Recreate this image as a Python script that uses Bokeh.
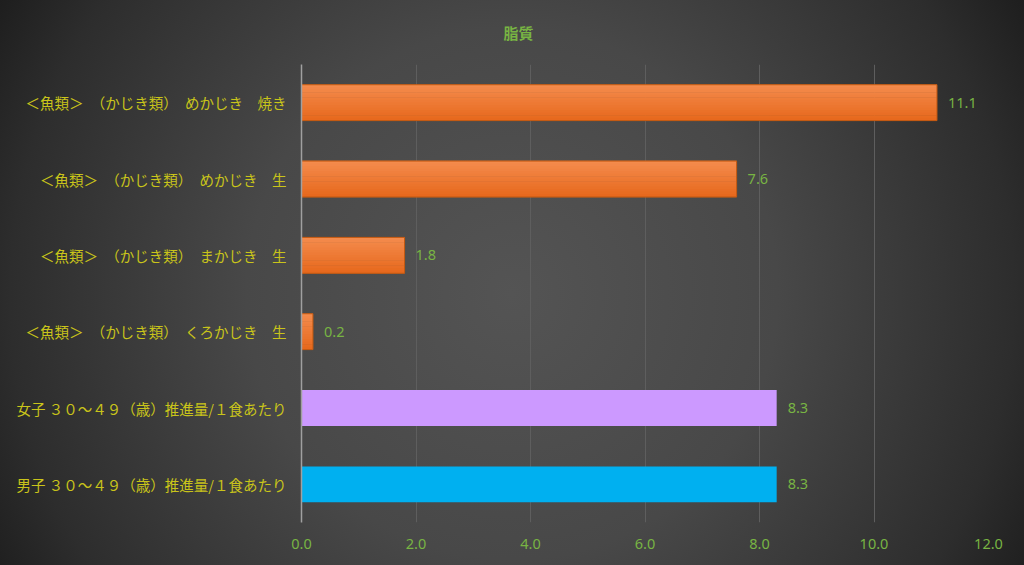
from bokeh.plotting import figure
from bokeh.models import (FactorRange, Range1d, FixedTicker, NumeralTickFormatter,
                          ColumnDataSource, InlineStyleSheet)
from bokeh.transform import dodge
from bokeh.core.properties import value
from bokeh.embed import file_html
from bokeh.resources import INLINE

# ---------------- data (top to bottom as shown) ----------------
categories = [
    "＜魚類＞　（かじき類）　めかじき　焼き",
    "＜魚類＞　（かじき類）　めかじき　生",
    "＜魚類＞　（かじき類）　まかじき　生",
    "＜魚類＞　（かじき類）　くろかじき　生",
    "女子 ３０～４９（歳）推進量/１食あたり",
    "男子 ３０～４９（歳）推進量/１食あたり",
]
values = [11.1, 7.6, 1.8, 0.2, 8.3, 8.3]
series_kind = ["food", "food", "food", "food", "female", "male"]
x_ticks = [0, 2, 4, 6, 8, 10, 12]
title_text = "脂質"

# ---------------- styles ----------------
GREEN = "#78B443"
YELLOW = "#C9C41A"
ORANGE_TOP = (245, 140, 78)
ORANGE_BOT = (230, 104, 28)
PURPLE = "#CC99FF"
BLUE = "#00B0F0"
JP = "Noto Sans CJK JP"
BAR_H = 0.47

p = figure(width=1024, height=565,
           y_range=FactorRange(factors=categories[::-1], range_padding=0),
           x_range=Range1d(0, 12),
           output_backend="svg", toolbar_location=None,
           min_border_left=301, min_border_right=36,
           min_border_top=64, min_border_bottom=43)

bg = ("radial-gradient(circle farthest-corner at 50% 52%, "
      "#545454 0%, #484848 45%, #2d2d2d 85%, #1e1e1e 100%)")
p.styles = {"background": bg}
p.stylesheets = [InlineStyleSheet(css=":host { background: %s; }" % bg)]
p.background_fill_alpha = 0
p.border_fill_alpha = 0
p.outline_line_color = None

food_idx = [i for i, k in enumerate(series_kind) if k == "food"]
food = ColumnDataSource(dict(
    cat=[categories[i] for i in food_idx],
    val=[values[i] for i in food_idx],
    shadow_right=[values[i] + 0.06 for i in food_idx],
))

# shadow for orange bars
p.hbar(y=dodge("cat", -0.045, range=p.y_range), left=0, right="shadow_right",
       height=BAR_H, fill_color="black", fill_alpha=0.35, line_color=None)

# gradient orange bars made of horizontal bands
N = 14
for k in range(N):
    t = (k + 0.5) / N
    c = tuple(int(round(a + (b - a) * t)) for a, b in zip(ORANGE_TOP, ORANGE_BOT))
    col = "#%02x%02x%02x" % c
    off = BAR_H / 2 - (k + 0.5) * BAR_H / N
    p.hbar(y=dodge("cat", off, range=p.y_range), left=0, right="val",
           height=BAR_H / N * 1.2, fill_color=col, line_color=None, source=food)
p.hbar(y="cat", left=0, right="val", height=BAR_H, fill_alpha=0,
       line_color="#C55A11", line_width=1, source=food)

# reference bars
for kind, col in (("female", PURPLE), ("male", BLUE)):
    idx = [i for i, k in enumerate(series_kind) if k == kind]
    src = ColumnDataSource(dict(cat=[categories[i] for i in idx],
                                val=[values[i] for i in idx]))
    p.hbar(y="cat", left=0, right="val", height=BAR_H, fill_color=col,
           line_color=None, source=src)

# value labels
lab = ColumnDataSource(dict(cat=categories, val=values,
                            txt=["%.1f" % v for v in values]))
p.text(x="val", y="cat", text="txt", source=lab, x_offset=11,
       text_baseline="middle", text_align="left", text_color=GREEN,
       text_font=value("Noto Sans"), text_font_size="14.5px")

# axes & grid
p.xaxis.ticker = FixedTicker(ticks=x_ticks)
p.xaxis.formatter = NumeralTickFormatter(format="0.0")
p.xaxis.axis_line_color = None
p.xaxis.major_tick_line_color = None
p.xaxis.minor_tick_line_color = None
p.xaxis.major_label_text_color = GREEN
p.xaxis.major_label_text_font = "Noto Sans"
p.xaxis.major_label_text_font_size = "14.5px"
p.xaxis.major_label_standoff = 10

p.yaxis.axis_line_color = "#A0A0A0"
p.yaxis.axis_line_width = 1.5
p.yaxis.major_tick_line_color = None
p.yaxis.minor_tick_line_color = None
p.yaxis.major_label_text_color = YELLOW
p.yaxis.major_label_text_font = JP
p.yaxis.major_label_text_font_size = "14.5px"
p.yaxis.major_label_standoff = 9

p.xgrid.grid_line_color = "#5E5E5E"
p.ygrid.grid_line_color = None

p.title.text = title_text
p.title.align = "left"
p.title.offset = 202
p.title.standoff = 40
p.title.vertical_align = "top"
p.title.text_color = GREEN
p.title.text_font = JP
p.title.text_font_size = "15px"
p.title.text_font_style = "bold"

open("out.html", "w").write(file_html(p, INLINE))
